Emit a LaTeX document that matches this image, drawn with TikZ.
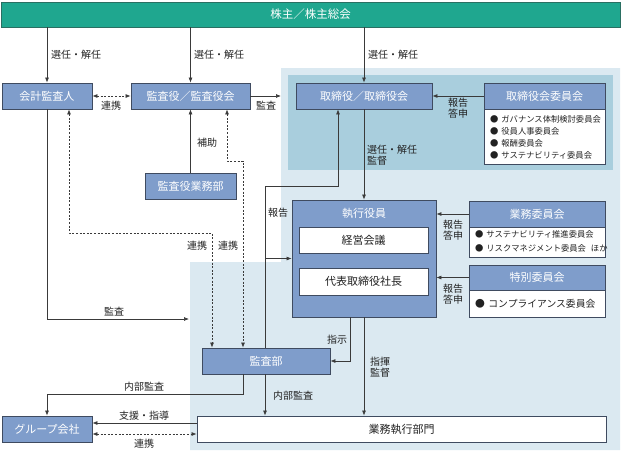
\documentclass[tikz,border=0pt]{standalone}
\usepackage{fontspec}
\setmainfont{Noto Sans CJK JP}
\usetikzlibrary{arrows.meta}
\definecolor{teal1}{HTML}{1FA78F}
\definecolor{tealdk}{HTML}{2A6F62}
\definecolor{nodeblue}{HTML}{7F9DCB}
\definecolor{bdr}{HTML}{3F4B60}
\definecolor{bgouter}{HTML}{DBE9F1}
\definecolor{bginner}{HTML}{A9CEDD}
\definecolor{ln}{HTML}{3A3A3A}
\definecolor{txt}{HTML}{222222}
\newcommand{\itm}[1]{\mbox{●\hspace{0.35em}#1}}
\begin{document}
\begin{tikzpicture}[x=1pt,y=-1pt,
  bluebox/.style={draw=bdr, fill=nodeblue, text=white, line width=0.8pt, inner sep=0pt,
    font=\fontsize{11}{13}\selectfont},
  whitebox/.style={draw=bdr, fill=white, text=txt, line width=0.8pt, inner sep=0pt,
    font=\fontsize{11}{13}\selectfont},
  listbox/.style={draw=bdr, fill=white, line width=0.8pt, inner sep=0pt},
  listtext/.style={text=txt, inner sep=0pt, anchor=west, align=left},
  lbl/.style={text=txt, inner sep=0pt, font=\fontsize{10}{11}\selectfont, align=left},
  conn/.style={draw=ln, line width=0.7pt},
  arr/.style={conn, -{Latex[length=5pt,width=4pt]}},
  darr/.style={conn, dash pattern=on 2pt off 1.6pt, {Latex[length=5pt,width=4pt]}-{Latex[length=5pt,width=4pt]}},
]
\useasboundingbox (0,0) rectangle (621,450);
% backgrounds
\fill[bgouter] (281,68) -- (620,68) -- (620,450) -- (190,450) -- (190,262) -- (281,262) -- cycle;
\fill[bginner] (288,75) rectangle (613,170);

% nodes
\node[draw=tealdk, fill=teal1, text=white, line width=0.8pt, inner sep=0pt,
  minimum width=619pt, minimum height=25pt, font=\fontsize{11.5}{13}\selectfont] (top) at (310.5,14.5) {株主／株主総会};
\node[bluebox, minimum width=90pt, minimum height=26pt] (kaikei) at (47,96) {会計監査人};
\node[bluebox, minimum width=119pt, minimum height=26pt] (kansayaku) at (190.5,96) {監査役／監査役会};
\node[bluebox, minimum width=136pt, minimum height=26pt] (torishimari) at (364,96) {取締役／取締役会};
\node[bluebox, minimum width=121pt, minimum height=26pt] (iinkai) at (544.5,96) {取締役会委員会};
\node[listbox, minimum width=121pt, minimum height=55pt] (iinkailist) at (544.5,136.5) {};
\node[listtext, font=\fontsize{8.3}{12}\selectfont] (iinkaitext) at (490,137)
  {\itm{ガバナンス体制検討委員会}\\\itm{役員人事委員会}\\\itm{報酬委員会}\\\itm{サステナビリティ委員会}};
\node[bluebox, minimum width=91pt, minimum height=26pt] (gyomubu) at (190.5,186) {監査役業務部};

\node[bluebox, minimum width=144pt, minimum height=117pt] (shikko) at (364,258.5) {};
\node[text=white, inner sep=0pt, font=\fontsize{11}{13}\selectfont] (shikkotitle) at (364,213) {執行役員};
\node[whitebox, minimum width=129pt, minimum height=26pt] (keiei) at (363.5,240) {経営会議};
\node[whitebox, minimum width=129pt, minimum height=27pt] (daihyo) at (363.5,281.5) {代表取締役社長};

\node[bluebox, minimum width=136pt, minimum height=26pt] (gyomuiin) at (537,214) {業務委員会};
\node[listbox, minimum width=136pt, minimum height=30pt] (gyomuiinlist) at (537,242) {};
\node[listtext, font=\fontsize{8.3}{13.5}\selectfont] (gyomuiintext) at (475,241.5)
  {\itm{サステナビリティ推進委員会}\\\itm{リスクマネジメント委員会\hspace{0.6em}ほか}};
\node[bluebox, minimum width=136pt, minimum height=25pt] (tokubetsu) at (537,277.5) {特別委員会};
\node[listbox, minimum width=136pt, minimum height=27pt] (tokubetsulist) at (537,303.5) {};
\node[listtext, font=\fontsize{9.8}{12}\selectfont] (tokubetsutext) at (475,304)
  {\itm{コンプライアンス委員会}};

\node[bluebox, minimum width=128pt, minimum height=26pt] (kansabu) at (266,361) {監査部};
\node[bluebox, minimum width=90pt, minimum height=26pt] (group) at (47,429) {グループ会社};
\node[whitebox, minimum width=409pt, minimum height=26pt] (gyomushikko) at (401.5,429) {業務執行部門};

% connectors from shareholders
\draw[arr] (top.south -| kaikei) -- (kaikei.north);
\draw[arr] (top.south -| kansayaku) -- (kansayaku.north);
\draw[arr] (top.south -| torishimari) -- (torishimari.north);
\node[lbl, anchor=west] (l1) at (51,55) {選任・解任};
\node[lbl, anchor=west] (l2) at (194,55) {選任・解任};
\node[lbl, anchor=west] (l3) at (368,55) {選任・解任};

% 連携 auditor - board of auditors
\draw[darr] (kaikei.east) -- (kansayaku.west);
\node[lbl] (l4) at (111,106) {連携};
% 監査
\coordinate (kansaend) at (281,96);
\draw[arr] (kansayaku.east) -- (kansaend);
\node[lbl] (l5) at (266,106) {監査};
% committee -> board
\draw[arr] (iinkai.west) -- (torishimari.east);
\node[lbl, align=center] (l6) at (458,108) {報告\\答申};
% 補助
\draw[arr] (gyomubu.north) -- (kansayaku.south);
\node[lbl, anchor=west] (l7) at (197,143) {補助};
% dashed 連携 lines
\coordinate (b1) at (69,233);
\coordinate (b2) at (212,233);
\draw[darr] ([xshift=22pt]kaikei.south) -- (b1) -- (b2) -- ([xshift=-54pt]kansabu.north);
\coordinate (b3) at (227,161);
\coordinate (b4) at (243,161);
\draw[darr] ([xshift=36.5pt]kansayaku.south) -- (b3) -- (b4) -- ([xshift=-23pt]kansabu.north);
\node[lbl] (l8) at (197,246) {連携};
\node[lbl] (l9) at (228,246) {連携};
% 報告 from audit dept
\coordinate (r1) at (265,186);
\coordinate (r2) at (338,186);
\coordinate (rb) at (265,258.5);
\draw[arr] ([xshift=-1pt]kansabu.north) -- (r1) -- (r2) -- ([xshift=-26pt]torishimari.south);
\draw[arr] (rb) -- (shikko.west);
\node[lbl] (l10) at (278,213) {報告};
% board -> executive officers
\draw[arr] (torishimari.south) -- (shikko.north);
\node[lbl, anchor=west, font=\fontsize{10}{10.5}\selectfont] (l11) at (367,155) {選任・解任\\監督};
% committees -> executive officers
\draw[arr] (gyomuiin.west) -- (gyomuiin.west -| shikko.east);
\node[lbl, align=center] (l12) at (453,230) {報告\\答申};
\draw[arr] (tokubetsu.west) -- (tokubetsu.west -| shikko.east);
\node[lbl, align=center] (l13) at (453,294) {報告\\答申};
% 指示
\draw[arr] ([xshift=-14pt]shikko.south) |- (kansabu.east);
\node[lbl] (l14) at (337,340) {指示};
% 指揮 監督
\draw[arr] (shikko.south) -- (shikko.south |- gyomushikko.north);
\node[lbl, anchor=west, font=\fontsize{10}{11.5}\selectfont] (l15) at (370,367) {指揮\\監督};
% 監査 from auditor
\coordinate (kansapt) at (189,319);
\draw[arr] (kaikei.south) |- (kansapt);
\node[lbl] (l16) at (114,312) {監査};
% 内部監査 to group
\coordinate (b5) at (243,394);
\draw[arr] ([xshift=-23pt]kansabu.south) -- (b5) -| (group.north);
\node[lbl] (l17) at (144,387) {内部監査};
% 内部監査 to business
\draw[arr] ([xshift=-1pt]kansabu.south) -- ([xshift=-1pt]kansabu.south |- gyomushikko.north);
\node[lbl] (l18) at (293,396) {内部監査};
% 支援・指導, 連携
\draw[arr] ([yshift=6pt]gyomushikko.west) -- ([yshift=6pt]group.east);
\node[lbl] (l19) at (144,416) {支援・指導};
\draw[darr] ([yshift=-5pt]group.east) -- ([yshift=-5pt]gyomushikko.west);
\node[lbl] (l20) at (144,444) {連携};
\end{tikzpicture}
\end{document}
